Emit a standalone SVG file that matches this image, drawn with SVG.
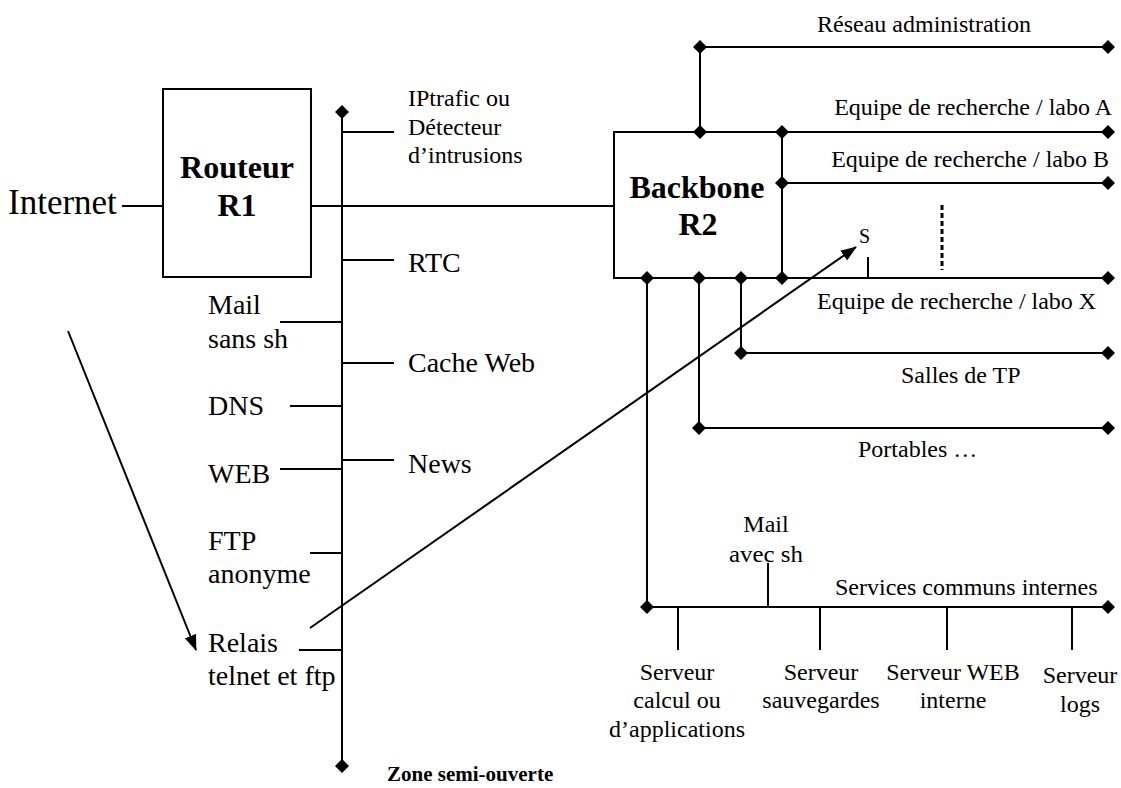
<svg xmlns="http://www.w3.org/2000/svg" xmlns:xlink="http://www.w3.org/1999/xlink" width="1121" height="788" viewBox="0 0 1121 788">
<style>
.l{stroke:#000;stroke-width:2;fill:none}
.t{font-family:"Liberation Serif","Times New Roman",serif;fill:#000}
.r24{font-size:24px}
.r28{font-size:28px}
.b{font-weight:bold}
.m{text-anchor:middle}
.e{text-anchor:end}
</style>
<defs>
<path id="d" d="M0,-7 L7,0 L0,7 L-7,0 Z" fill="#000"/>
<marker id="ah" markerWidth="16" markerHeight="12" refX="15" refY="6" orient="auto" markerUnits="userSpaceOnUse">
<path d="M0,0 L16,6 L0,12 Z" fill="#000"/>
</marker>
</defs>
<rect width="1121" height="788" fill="#fff"/>

<g id="connectors">
<line class="l" x1="122" y1="206" x2="163" y2="206"/>
<line class="l" x1="311" y1="206" x2="614" y2="206"/>
<line class="l" x1="342" y1="112" x2="342" y2="766"/>
<line class="l" x1="342" y1="132" x2="394" y2="132"/>
<line class="l" x1="342" y1="260" x2="394" y2="260"/>
<line class="l" x1="280" y1="322" x2="342" y2="322"/>
<line class="l" x1="342" y1="363" x2="394" y2="363"/>
<line class="l" x1="290" y1="406" x2="342" y2="406"/>
<line class="l" x1="342" y1="460" x2="394" y2="460"/>
<line class="l" x1="280" y1="469" x2="342" y2="469"/>
<line class="l" x1="310" y1="553" x2="342" y2="553"/>
<line class="l" x1="299" y1="650" x2="342" y2="650"/>
<use xlink:href="#d" x="342" y="112"/>
<use xlink:href="#d" x="342" y="766"/>

<line class="l" x1="700" y1="47" x2="1108" y2="47"/>
<line class="l" x1="700" y1="47" x2="700" y2="132"/>
<line class="l" x1="782" y1="132" x2="1108" y2="132"/>
<line class="l" x1="782" y1="183" x2="1108" y2="183"/>
<line class="l" x1="782" y1="278" x2="1108" y2="278"/>
<line class="l" x1="868" y1="257" x2="868" y2="278"/>
<line x1="942" y1="205" x2="942" y2="270" stroke="#000" stroke-width="3" stroke-dasharray="5,3"/>
<line class="l" x1="741" y1="278" x2="741" y2="353"/>
<line class="l" x1="741" y1="353" x2="1108" y2="353"/>
<line class="l" x1="699" y1="278" x2="699" y2="428"/>
<line class="l" x1="699" y1="428" x2="1108" y2="428"/>
<line class="l" x1="647" y1="278" x2="647" y2="607"/>
<line class="l" x1="647" y1="607" x2="1108" y2="607"/>
<line class="l" x1="768" y1="563" x2="768" y2="607"/>
<line class="l" x1="678" y1="607" x2="678" y2="650"/>
<line class="l" x1="820" y1="607" x2="820" y2="650"/>
<line class="l" x1="947" y1="607" x2="947" y2="650"/>
<line class="l" x1="1072" y1="607" x2="1072" y2="650"/>
<use xlink:href="#d" x="700" y="47"/>
<use xlink:href="#d" x="1108" y="47"/>
<use xlink:href="#d" x="700" y="132"/>
<use xlink:href="#d" x="782" y="132"/>
<use xlink:href="#d" x="1108" y="132"/>
<use xlink:href="#d" x="782" y="183"/>
<use xlink:href="#d" x="1108" y="183"/>
<use xlink:href="#d" x="647" y="278"/>
<use xlink:href="#d" x="699" y="278"/>
<use xlink:href="#d" x="741" y="278"/>
<use xlink:href="#d" x="782" y="278"/>
<use xlink:href="#d" x="1108" y="278"/>
<use xlink:href="#d" x="741" y="353"/>
<use xlink:href="#d" x="1108" y="353"/>
<use xlink:href="#d" x="699" y="428"/>
<use xlink:href="#d" x="1108" y="428"/>
<use xlink:href="#d" x="647" y="607"/>
<use xlink:href="#d" x="1108" y="607"/>

<line class="l" x1="68" y1="331" x2="196" y2="650" marker-end="url(#ah)"/>
<line class="l" x1="310" y1="628" x2="856" y2="247" marker-end="url(#ah)"/>
</g>

<g id="internet"><text class="t" x="8" y="214" font-size="35">Internet</text></g>
<g id="routeur-r1">
<rect class="l" x="163" y="89" width="148" height="188"/>
<text class="t b m" x="237" y="178" font-size="32">Routeur</text>
<text class="t b m" x="237" y="216" font-size="32">R1</text>
</g>
<g id="backbone-r2">
<rect class="l" x="614" y="132" width="168" height="146"/>
<text class="t b m" x="697" y="198" font-size="32">Backbone</text>
<text class="t b m" x="698" y="235" font-size="32">R2</text>
</g>

<g id="iptrafic"><text class="t r24" x="408" y="106">IPtrafic ou</text><text class="t r24" x="408" y="135">Détecteur</text><text class="t r24" x="408" y="163">d’intrusions</text></g>
<g id="rtc"><text class="t r28" x="408" y="272">RTC</text></g>
<g id="mail-sans-sh"><text class="t r28" x="208" y="314">Mail</text><text class="t r28" x="208" y="348">sans sh</text></g>
<g id="cache-web"><text class="t r28" x="408" y="372">Cache Web</text></g>
<g id="dns"><text class="t r28" x="208" y="415">DNS</text></g>
<g id="news"><text class="t r28" x="408" y="473">News</text></g>
<g id="web"><text class="t r28" x="208" y="483">WEB</text></g>
<g id="ftp"><text class="t r28" x="208" y="550">FTP</text><text class="t r28" x="208" y="583">anonyme</text></g>
<g id="relais"><text class="t r28" x="208" y="652">Relais</text><text class="t r28" x="208" y="685">telnet et ftp</text></g>
<g id="zone"><text class="t b" x="387" y="781" font-size="21">Zone semi-ouverte</text></g>

<g id="reseau-admin"><text class="t r24" x="817" y="32">Réseau administration</text></g>
<g id="labo-a"><text class="t r24 e" x="1112" y="115">Equipe de recherche / labo A</text></g>
<g id="labo-b"><text class="t r24 e" x="1109" y="167">Equipe de recherche / labo B</text></g>
<g id="s"><text class="t" x="859" y="243" font-size="20">S</text></g>
<g id="labo-x"><text class="t r24" x="817" y="309">Equipe de recherche / labo X</text></g>
<g id="salles-tp"><text class="t r24" x="901" y="383">Salles de TP</text></g>
<g id="portables"><text class="t r24" x="858" y="457">Portables …</text></g>
<g id="mail-avec-sh"><text class="t r24 m" x="766" y="532">Mail</text><text class="t m" x="766" y="562" font-size="24" textLength="74" lengthAdjust="spacingAndGlyphs">avec sh</text></g>
<g id="services"><text class="t r24" x="835" y="595">Services communs internes</text></g>
<g id="srv-calcul"><text class="t r24 m" x="677" y="680">Serveur</text><text class="t r24 m" x="677" y="708">calcul ou</text><text class="t r24 m" x="677" y="737">d’applications</text></g>
<g id="srv-sauv"><text class="t r24 m" x="821" y="680">Serveur</text><text class="t r24 m" x="821" y="708">sauvegardes</text></g>
<g id="srv-web"><text class="t r24 m" x="953" y="680">Serveur WEB</text><text class="t r24 m" x="953" y="708">interne</text></g>
<g id="srv-logs"><text class="t r24 m" x="1080" y="683">Serveur</text><text class="t r24 m" x="1080" y="712">logs</text></g>
</svg>
